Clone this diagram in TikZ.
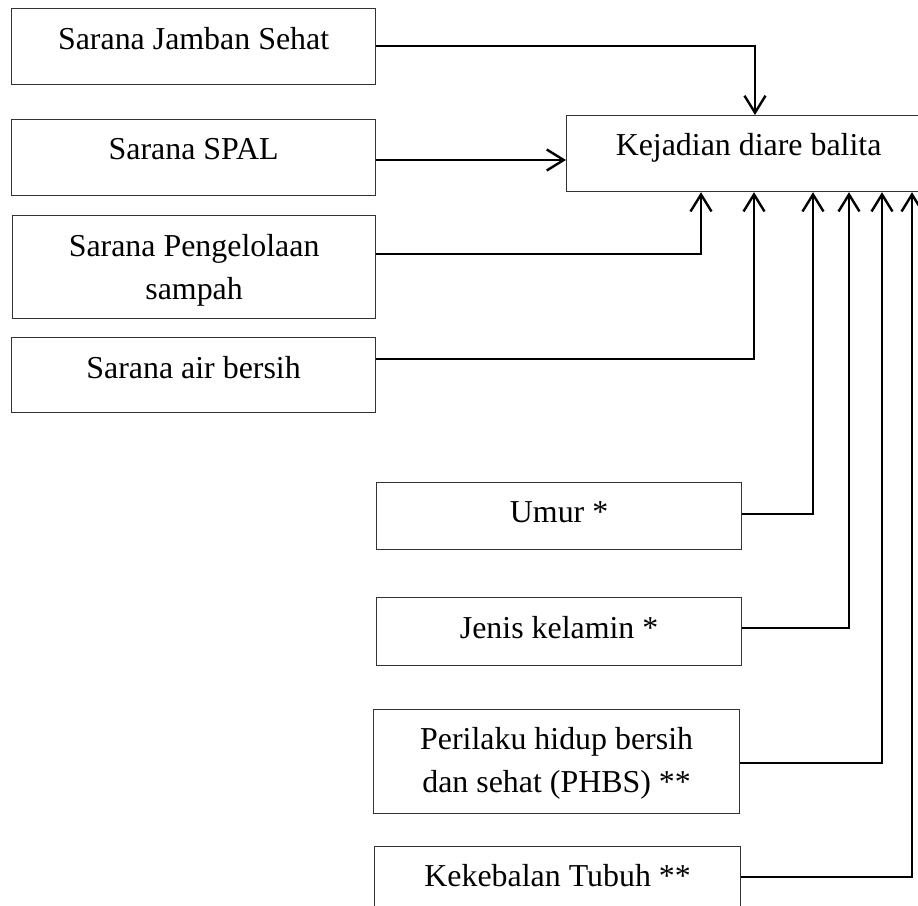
\documentclass[tikz,border=0pt]{standalone}
\usepackage{fontspec}
\setmainfont{Liberation Serif}
\usetikzlibrary{arrows.meta}
\begin{document}
\begin{tikzpicture}[x=1pt,y=-1pt,
  box/.style={draw=black!80,line width=1.2pt,rectangle,inner sep=0pt,anchor=north west},
  txt/.style={inner sep=0pt,anchor=north,align=center,font=\fontsize{31.9}{43}\selectfont},
  arr/.style={line width=2.4pt,-{Straight Barb[length=17pt,width=21pt]}}]
\useasboundingbox (0,0) rectangle (918,905);
% left boxes
\node[box,minimum width=364pt,minimum height=76pt] (b1) at (11,8) {};
\node[txt] (t1) at ([yshift=-19pt]b1.north) {Sarana Jamban Sehat};
\node[box,minimum width=364pt,minimum height=76pt] (b2) at (11,119) {};
\node[txt] (t2) at ([yshift=-19pt]b2.north) {Sarana SPAL};
\node[box,minimum width=363pt,minimum height=103pt] (b3) at (12,215) {};
\node[txt] (t3) at ([yshift=-19pt]b3.north) {Sarana Pengelolaan\\sampah};
\node[box,minimum width=364pt,minimum height=75pt] (b4) at (11,337) {};
\node[txt] (t4) at ([yshift=-19pt]b4.north) {Sarana air bersih};
% target
\node[box,minimum width=364pt,minimum height=76pt] (k) at (566,115) {};
\node[txt] (tk) at ([yshift=-18pt]k.north) {Kejadian diare balita};
% bottom boxes
\node[box,minimum width=365pt,minimum height=67pt] (u) at (376,482) {};
\node[txt] (tu) at ([yshift=-19pt]u.north) {Umur *};
\node[box,minimum width=365pt,minimum height=68pt] (j) at (376,597) {};
\node[txt] (tj) at ([yshift=-19pt]j.north) {Jenis kelamin *};
\node[box,minimum width=366pt,minimum height=104pt] (p) at (373,709) {};
\node[txt] (tp) at ([yshift=-18pt]p.north) {Perilaku hidup bersih\\dan sehat (PHBS) **};
\node[box,minimum width=366pt,minimum height=76pt] (kt) at (374,846) {};
\node[txt] (tkt) at ([yshift=-18pt]kt.north) {Kekebalan Tubuh **};
% columns
\coordinate (c1) at (755,0);
\coordinate (c3) at (701,0);
\coordinate (c4) at (754,0);
\coordinate (cu) at (813,0);
\coordinate (cj) at (849,0);
\coordinate (cp) at (882,0);
\coordinate (ck) at (912,0);
% connectors
\draw[arr] ([yshift=-38pt]b1.north east) -| (c1 |- k.north);
\draw[arr] ([yshift=-41pt]b2.north east) -- ([yshift=-45pt]k.north west);
\draw[arr] ([yshift=-39pt]b3.north east) -| (c3 |- k.south);
\draw[arr] ([yshift=-22pt]b4.north east) -| (c4 |- k.south);
\draw[arr] ([yshift=-32pt]u.north east) -| (cu |- k.south);
\draw[arr] ([yshift=-31pt]j.north east) -| (cj |- k.south);
\draw[arr] ([yshift=-54pt]p.north east) -| (cp |- k.south);
\draw[arr] ([yshift=-31pt]kt.north east) -| (ck |- k.south);
\end{tikzpicture}
\end{document}
